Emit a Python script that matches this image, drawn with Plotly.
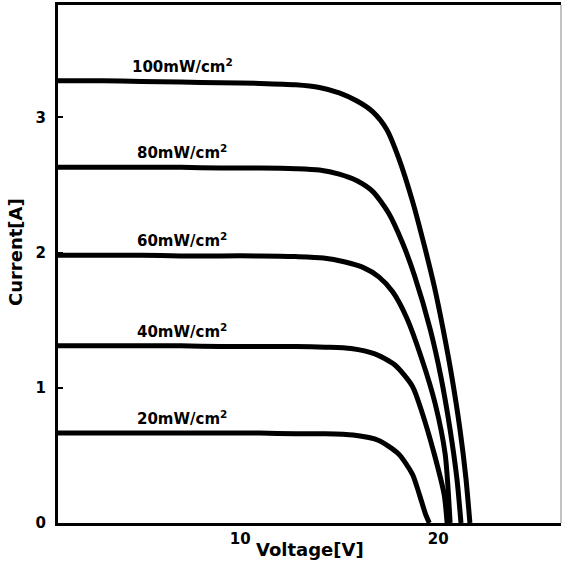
import plotly.graph_objects as go

# I-V curves
labels = ["100mW/cm<sup>2</sup>", "80mW/cm<sup>2</sup>", "60mW/cm<sup>2</sup>",
          "40mW/cm<sup>2</sup>", "20mW/cm<sup>2</sup>"]

V_100 = [0.8, 3.0, 5.0, 7.0, 9.0, 11.0, 12.8, 14.0, 15.0, 15.9, 16.7, 17.4, 18.0, 18.7, 19.3, 19.8, 20.25, 20.7, 21.1, 21.4, 21.6]
I_100 = [3.27, 3.27, 3.265, 3.26, 3.255, 3.25, 3.24, 3.22, 3.18, 3.12, 3.04, 2.91, 2.70, 2.38, 2.05, 1.75, 1.43, 1.07, 0.69, 0.33, 0.0]

V_80 = [0.8, 3.0, 5.0, 7.0, 9.0, 11.0, 12.8, 14.0, 15.0, 15.9, 16.7, 17.5, 18.2, 18.8, 19.6, 20.15, 20.6, 20.95, 21.15]
I_80 = [2.63, 2.63, 2.63, 2.63, 2.625, 2.625, 2.62, 2.61, 2.58, 2.53, 2.45, 2.29, 2.07, 1.83, 1.43, 1.07, 0.69, 0.32, 0.0]

V_60 = [0.8, 3.0, 5.0, 7.0, 9.0, 11.0, 12.8, 14.2, 15.3, 16.2, 17.0, 17.7, 18.4, 19.2, 19.85, 20.35, 20.6]
I_60 = [1.98, 1.98, 1.98, 1.975, 1.975, 1.975, 1.97, 1.96, 1.93, 1.89, 1.82, 1.71, 1.52, 1.20, 0.88, 0.51, 0.0]

V_40 = [0.8, 3.0, 5.0, 7.0, 9.0, 11.0, 12.8, 14.3, 15.6, 16.8, 17.8, 18.7, 19.2, 19.8, 20.3, 20.45]
I_40 = [1.31, 1.31, 1.31, 1.31, 1.305, 1.305, 1.305, 1.30, 1.29, 1.25, 1.17, 1.01, 0.81, 0.51, 0.21, 0.0]

V_20 = [0.8, 3.0, 5.0, 7.0, 9.0, 11.0, 12.8, 14.3, 15.7, 17.0, 18.0, 18.7, 19.05, 19.35, 19.55]
I_20 = [0.665, 0.665, 0.665, 0.665, 0.665, 0.665, 0.66, 0.66, 0.65, 0.61, 0.51, 0.36, 0.21, 0.07, 0.0]

series_V = [V_100, V_80, V_60, V_40, V_20]
series_I = [I_100, I_80, I_60, I_40, I_20]

x_ticks = [10, 20]
y_ticks = [0, 1, 2, 3]
label_x = 7.07

FONT = "DejaVu Sans"

fig = go.Figure()
for V, I in zip(series_V, series_I):
    fig.add_trace(go.Scatter(x=V, y=I, mode="lines",
                             line=dict(color="black", width=5, shape="spline", smoothing=0.7),
                             showlegend=False, hoverinfo="skip"))

for lab, I in zip(labels, series_I):
    fig.add_annotation(x=label_x, y=I[0], text="<b>" + lab + "</b>", showarrow=False,
                       yshift=15, font=dict(family=FONT, size=15, color="black"))

fig.add_annotation(xref="paper", yref="paper", x=0.501, y=-0.052, text="<b>Voltage[V]</b>",
                   showarrow=False, font=dict(family=FONT, size=18, color="black"),
                   xanchor="center", yanchor="middle")
fig.add_annotation(xref="paper", yref="paper", x=-0.0855, y=0.523, text="<b>Current[A]</b>",
                   showarrow=False, textangle=-90, font=dict(family=FONT, size=18, color="black"),
                   xanchor="center", yanchor="middle")

# right border (faint)
fig.add_shape(type="line", xref="paper", yref="paper", x0=1, x1=1, y0=0, y1=1,
              line=dict(color="#888888", width=1))

fig.update_xaxes(range=[0.8, 26.2], tickvals=x_ticks, ticktext=["<b>%d</b>" % t for t in x_ticks],
                 showgrid=False, zeroline=False,
                 showline=True, linecolor="black", linewidth=3, mirror=True,
                 ticks="", ticklabelstandoff=0,
                 tickfont=dict(family=FONT, size=15, color="black"))
fig.update_yaxes(range=[0, 3.83], tickvals=y_ticks, ticktext=["<b>%d</b>" % t for t in y_ticks],
                 showgrid=False, zeroline=False,
                 showline=True, linecolor="black", linewidth=3,
                 ticks="inside", ticklen=5, tickwidth=2, tickcolor="black", ticklabelstandoff=6,
                 tickfont=dict(family=FONT, size=15, color="black"))

fig.update_layout(width=564, height=574, margin=dict(l=58, r=3, t=5, b=51),
                  plot_bgcolor="white", paper_bgcolor="white")

fig.write_html("out.html")
